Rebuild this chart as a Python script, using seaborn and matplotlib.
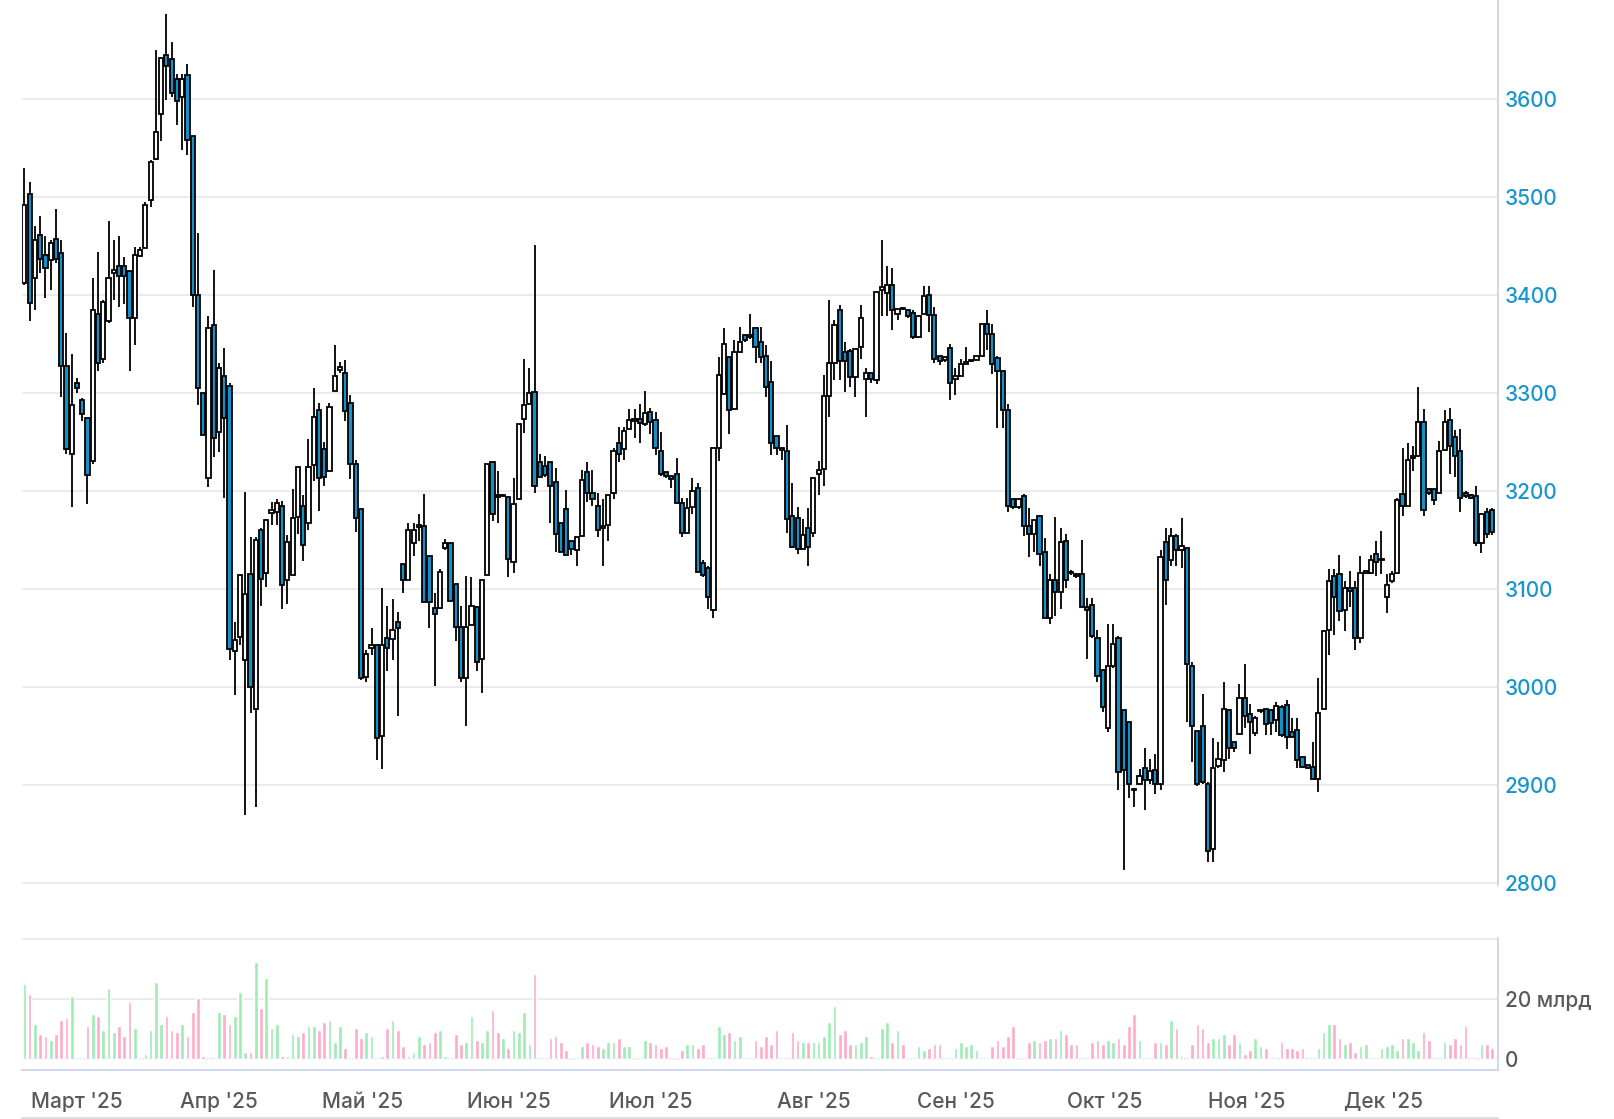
import numpy as np
import pandas as pd
import seaborn as sns
import matplotlib
matplotlib.use("Agg")
import matplotlib.pyplot as plt
from matplotlib.lines import Line2D

# OHLC per session
opens = [
    3412, 3503, 3417, 3461, 3441, 3436, 3457, 3443, 3327, 3238, 3310, 3293, 3274, 3230, 3380, 3335, 3373, 3422, 3429, 3429,
    3424, 3376, 3440, 3448, 3497, 3539, 3584, 3645, 3641, 3620, 3602, 3624, 3562, 3400, 3300, 3213, 3369, 3260, 3317, 3307,
    3037, 3051, 3027, 3115, 2978, 3160, 3116, 3177, 3178, 3185, 3109, 3114, 3173, 3185, 3167, 3226, 3282, 3243,
    3220, 3302, 3323, 3320, 3290, 3227, 3182, 3010, 3040, 3043, 2950, 3050, 3049, 3066, 3125, 3109, 3147, 3163, 3164, 3134,
    3081, 3081, 3142, 3147, 3105, 3061, 3009, 3063, 3082, 3029, 3114, 3229, 3196, 3195, 3194, 3127, 3192, 3273, 3289, 3301,
    3229, 3225, 3229, 3209, 3167, 3182, 3149, 3140, 3154, 3219, 3198, 3185, 3162, 3165, 3198, 3249, 3243, 3263,
    3271, 3273, 3268, 3280, 3272, 3241, 3219, 3215, 3217, 3188, 3157, 3184, 3203, 3126, 3121, 3078, 3244, 3299, 3337, 3284,
    3342, 3359, 3357, 3366, 3352, 3338, 3311, 3256, 3242, 3241, 3174, 3172, 3141, 3162, 3157, 3217, 3222, 3297, 3330, 3385,
    3342, 3343, 3316, 3347, 3314, 3320, 3313, 3405, 3402, 3410, 3380, 3387, 3385, 3381, 3357, 3380, 3400, 3379, 3338, 3334,
    3346, 3314, 3317, 3329, 3332, 3334, 3338, 3370, 3360, 3336, 3322, 3282, 3192, 3184, 3195, 3164, 3156, 3174, 3138, 3070,
    3109, 3097, 3149, 3117, 3115, 3115, 3082, 3084, 3050, 3017, 2958, 3021, 3050, 2976, 2964, 2896, 2901, 2917, 2905, 2915,
    2901, 3148, 3129, 3154, 3140, 3142, 3021, 2955, 2960, 2901, 2835, 2919, 2925, 2976, 2944, 2952, 2989, 2972, 2953,
    2975, 2978, 2976, 2966, 2980, 2982, 2954, 2956, 2929, 2920, 2918, 2906, 2978, 3058, 3113, 3115, 3079, 3101, 3101, 3050,
    3116, 3116, 3136, 3130, 3092, 3108, 3116, 3197, 3185, 3234, 3236, 3270, 3202, 3202, 3198, 3242, 3272, 3255, 3241, 3198,
    3196, 3195, 3147, 3178, 3181,
]
highs = [
    3529, 3515, 3470, 3480, 3460, 3456, 3488, 3456, 3361, 3340, 3315, 3295, 3274, 3417, 3444, 3395, 3475, 3456, 3460, 3439,
    3424, 3449, 3449, 3495, 3538, 3650, 3642, 3686, 3658, 3625, 3625, 3635, 3562, 3463, 3300, 3378, 3425, 3330, 3346, 3310,
    3066, 3114, 3199, 3153, 3153, 3162, 3170, 3189, 3192, 3190, 3155, 3202, 3224, 3196, 3253, 3305, 3290, 3250,
    3290, 3349, 3331, 3333, 3298, 3231, 3182, 3038, 3060, 3043, 3101, 3083, 3090, 3076, 3125, 3167, 3167, 3176, 3197, 3134,
    3096, 3120, 3151, 3147, 3105, 3083, 3113, 3112, 3082, 3109, 3227, 3229, 3220, 3196, 3194, 3213, 3268, 3335, 3325, 3451,
    3238, 3236, 3229, 3223, 3167, 3201, 3149, 3153, 3221, 3229, 3221, 3198, 3192, 3196, 3244, 3265, 3265, 3284,
    3284, 3289, 3302, 3285, 3280, 3260, 3219, 3215, 3234, 3193, 3193, 3213, 3208, 3129, 3123, 3244, 3337, 3366, 3337, 3354,
    3367, 3359, 3380, 3367, 3367, 3349, 3332, 3256, 3244, 3267, 3208, 3184, 3171, 3183, 3213, 3230, 3318, 3395, 3374, 3390,
    3352, 3345, 3345, 3390, 3325, 3320, 3403, 3456, 3429, 3427, 3386, 3387, 3386, 3385, 3378, 3409, 3409, 3388, 3338, 3337,
    3350, 3325, 3335, 3347, 3334, 3338, 3370, 3384, 3370, 3338, 3322, 3289, 3192, 3193, 3197, 3183, 3170, 3175, 3152, 3115,
    3173, 3162, 3156, 3119, 3116, 3150, 3091, 3091, 3058, 3017, 3064, 3064, 3052, 2976, 2964, 2897, 2916, 2938, 2927, 2932,
    3140, 3162, 3162, 3156, 3172, 3142, 3025, 2955, 2993, 2903, 2948, 2944, 3005, 2978, 2944, 3003, 3023, 2983, 2970,
    2977, 2978, 2978, 2985, 2982, 2987, 2968, 2968, 2929, 2920, 2944, 3009, 3057, 3120, 3120, 3135, 3108, 3118, 3108, 3134,
    3118, 3135, 3149, 3159, 3115, 3118, 3193, 3244, 3249, 3246, 3306, 3284, 3203, 3202, 3251, 3282, 3285, 3262, 3263, 3200,
    3197, 3205, 3176, 3183, 3183,
]
lows = [
    3410, 3373, 3385, 3422, 3397, 3405, 3432, 3296, 3238, 3184, 3300, 3271, 3187, 3227, 3322, 3330, 3371, 3395, 3388, 3391,
    3322, 3349, 3439, 3448, 3490, 3538, 3557, 3599, 3602, 3573, 3548, 3543, 3388, 3288, 3257, 3204, 3235, 3240, 3193, 3027,
    2992, 3043, 2869, 2973, 2878, 3083, 3102, 3165, 3165, 3080, 3085, 3114, 3156, 3128, 3160, 3210, 3179, 3205,
    3220, 3302, 3320, 3271, 3212, 3158, 3007, 3005, 3033, 2925, 2916, 3016, 3027, 2970, 3096, 3109, 3134, 3149, 3087, 3060,
    3001, 3080, 3140, 3088, 3047, 3005, 2960, 3063, 3016, 2994, 3114, 3169, 3167, 3195, 3112, 3116, 3192, 3259, 3289, 3198,
    3214, 3214, 3167, 3138, 3138, 3135, 3135, 3123, 3154, 3189, 3185, 3153, 3123, 3149, 3192, 3229, 3232, 3263,
    3254, 3249, 3266, 3258, 3237, 3215, 3213, 3203, 3188, 3153, 3157, 3176, 3117, 3112, 3080, 3070, 3230, 3299, 3258, 3284,
    3342, 3352, 3355, 3330, 3330, 3296, 3237, 3237, 3232, 3157, 3143, 3136, 3141, 3123, 3153, 3196, 3205, 3275, 3313, 3313,
    3301, 3306, 3296, 3335, 3275, 3310, 3309, 3378, 3378, 3364, 3374, 3386, 3376, 3355, 3357, 3380, 3362, 3330, 3328, 3331,
    3293, 3298, 3317, 3329, 3331, 3334, 3338, 3344, 3319, 3264, 3264, 3178, 3182, 3182, 3154, 3133, 3138, 3123, 3070, 3064,
    3072, 3080, 3101, 3114, 3111, 3082, 3029, 3050, 3005, 2974, 2954, 3019, 2895, 2813, 2887, 2878, 2901, 2874, 2901, 2891,
    2895, 3084, 3123, 3123, 3121, 2964, 2923, 2899, 2901, 2821, 2821, 2917, 2913, 2927, 2934, 2952, 2958, 2932, 2950,
    2973, 2951, 2951, 2954, 2949, 2937, 2949, 2917, 2917, 2917, 2906, 2893, 2978, 3033, 3053, 3067, 3057, 3082, 3038, 3045,
    3116, 3115, 3113, 3115, 3075, 3106, 3116, 3174, 3185, 3220, 3236, 3174, 3196, 3186, 3198, 3242, 3217, 3214, 3178, 3193,
    3192, 3144, 3137, 3152, 3155,
]
closes = [
    3492, 3392, 3456, 3437, 3427, 3453, 3437, 3327, 3243, 3288, 3305, 3278, 3216, 3384, 3330, 3393, 3417, 3425, 3419, 3419,
    3376, 3441, 3446, 3492, 3535, 3566, 3642, 3633, 3606, 3598, 3620, 3558, 3400, 3305, 3257, 3366, 3254, 3325, 3274, 3039,
    3048, 3114, 3095, 3000, 3150, 3110, 3170, 3181, 3188, 3104, 3148, 3172, 3224, 3145, 3224, 3275, 3213, 3214,
    3286, 3317, 3326, 3281, 3227, 3172, 3009, 3034, 3043, 2948, 3043, 3040, 3058, 3060, 3109, 3160, 3160, 3165, 3087, 3087,
    3074, 3117, 3147, 3088, 3061, 3009, 3061, 3083, 3025, 3109, 3227, 3176, 3194, 3196, 3131, 3187, 3268, 3288, 3300, 3205,
    3214, 3216, 3205, 3156, 3138, 3135, 3141, 3153, 3211, 3198, 3192, 3160, 3164, 3196, 3241, 3238, 3261, 3272,
    3273, 3269, 3279, 3270, 3244, 3217, 3215, 3212, 3188, 3157, 3183, 3200, 3117, 3114, 3092, 3244, 3318, 3350, 3282, 3342,
    3352, 3354, 3359, 3347, 3337, 3306, 3249, 3244, 3244, 3171, 3143, 3141, 3155, 3143, 3213, 3221, 3297, 3330, 3369, 3332,
    3332, 3316, 3345, 3376, 3320, 3314, 3403, 3408, 3410, 3385, 3386, 3386, 3378, 3357, 3378, 3399, 3379, 3335, 3332, 3337,
    3310, 3317, 3329, 3331, 3333, 3338, 3370, 3360, 3329, 3322, 3282, 3185, 3184, 3192, 3164, 3156, 3170, 3136, 3070, 3109,
    3097, 3148, 3109, 3116, 3113, 3082, 3079, 3052, 3011, 2980, 3021, 3044, 2913, 2915, 2901, 2895, 2909, 2905, 2914, 2901,
    3133, 3109, 3154, 3140, 3144, 3023, 2960, 2901, 2903, 2833, 2917, 2927, 2978, 2938, 2938, 2989, 2970, 2964, 2968,
    2975, 2962, 2963, 2981, 2951, 2949, 2949, 2925, 2918, 2917, 2906, 2973, 3057, 3108, 3092, 3077, 3101, 3098, 3050, 3116,
    3118, 3130, 3127, 3131, 3104, 3115, 3191, 3185, 3231, 3236, 3270, 3181, 3198, 3191, 3241, 3270, 3246, 3236, 3193, 3195,
    3193, 3147, 3176, 3156, 3158,
]
# traded value, млрд
volumes = [
    24.9, 21.6, 11.6, 8.2, 7.6, 6.2, 8.2, 12.9, 13.6, 20.9, 0, 0, 10.9, 14.9, 14.2, 9.6, 23.6, 8.9, 10.9, 7.6,
    18.9, 10.2, 0, 1.6, 9.6, 25.6, 11.6, 14.2, 9.6, 8.9, 11.6, 7.6, 15.6, 20.2, 0.9, 0, 0, 15.6, 14.9, 11.6,
    14.2, 22.2, 2.2, 2.2, 32.2, 16.9, 26.9, 10.2, 11.6, 0.9, 0.9, 8.2, 7.6, 8.9, 10.9, 10.9, 9.6, 12.2, 12.9, 5.6,
    10.9, 3.6, 0, 10.2, 6.9, 8.9, 7.6, 0, 0.9, 10.2, 12.9, 9.6, 4.2, 0.9, 2.2, 7.6, 4.9, 5.6, 8.9, 9.6,
    0.9, 0, 8.2, 4.9, 5.6, 14.2, 6.2, 5.6, 9.6, 16.2, 8.9, 6.9, 3.6, 9.6, 8.9, 15.6, 4.9, 28.2, 0, 0,
    6.9, 7.6, 5.6, 2.9, 0, 0, 4.2, 5.6, 4.9, 4.2, 3.6, 5.6, 5.6, 6.9, 4.2, 4.2, 0, 0, 6.2, 5.6,
    4.9, 3.6, 4.2, 0, 0, 2.9, 4.9, 4.9, 3.6, 4.9, 0, 0, 10.9, 8.2, 8.9, 6.2, 7.6, 0, 0, 6.2,
    4.2, 7.6, 4.9, 9.6, 0, 0, 8.9, 6.2, 5.6, 5.6, 5.6, 5.6, 7.6, 12.2, 17.6, 8.2, 9.6, 4.9, 4.9, 5.6,
    7.6, 0.9, 0, 10.2, 12.2, 5.6, 9.6, 4.9, 0, 0, 4.2, 2.9, 3.6, 4.9, 4.9, 0, 0, 3.6, 5.6, 4.2,
    4.9, 2.9, 0, 0, 4.2, 6.2, 4.2, 7.6, 10.9, 0, 0, 5.6, 6.2, 5.6, 6.2, 6.9, 6.9, 9.6, 8.2, 4.9,
    4.9, 0, 0, 5.6, 6.2, 4.9, 6.2, 5.6, 6.9, 4.9, 10.9, 14.9, 6.2, 0, 0, 5.6, 5.6, 4.9, 12.9, 10.2,
    0.9, 0, 4.9, 11.6, 10.2, 5.6, 6.9, 6.9, 8.2, 4.9, 8.2, 5.6, 1.6, 2.9, 6.9, 4.2, 3.6, 0, 0, 5.6,
    3.6, 3.6, 2.9, 3.6, 0, 0, 3.6, 8.9, 11.6, 11.6, 6.9, 4.9, 5.6, 2.2, 4.2, 4.9, 0, 0, 3.6, 4.2,
    4.9, 2.9, 6.9, 6.9, 5.6, 2.9, 8.9, 6.2, 0, 0, 5.6, 4.9, 6.9, 4.9, 10.9, 0, 0, 4.9, 4.9, 3.6,
]
price_ticks = [2800, 2900, 3000, 3100, 3200, 3300, 3400, 3500, 3600]
month_labels = ["Март '25", "Апр '25", "Май '25", "Июн '25", "Июл '25",
                "Авг '25", "Сен '25", "Окт '25", "Ноя '25", "Дек '25"]
# session index where each month begins
month_pos = [10.0, 36.9, 64.3, 92.2, 119.1, 150.1, 177.1, 205.3, 232.3, 258.3]

BLUE = "#1590c8"
BLUE_TXT = "#1795d0"
GREEN = "#a0eab6"
PINK = "#ffabc8"
AXIS = "#ccd6eb"
GRID = "#e6e6e6"
GREY_TXT = "#595959"

sns.set_theme(style="white")
plt.rcParams["font.family"] = ["Inter", "DejaVu Sans"]
plt.rcParams["font.weight"] = "medium"

df = pd.DataFrame({"open": opens, "high": highs, "low": lows,
                   "close": closes, "vol": volumes})
df["i"] = np.arange(len(df))
df["dir"] = np.where(df["close"] >= df["open"], "up", "down")

W, H = 1614, 1119
fig = plt.figure(figsize=(W / 100, H / 100), dpi=100)
ax = fig.add_axes([22 / W, 1 - 885 / H, 1476 / W, 885 / H])
axv = fig.add_axes([22 / W, 1 - 1070 / H, 1476 / W, 132 / H])

# candles
up = df["close"] >= df["open"]
body_lo = np.minimum(df["open"], df["close"])
body_h = np.maximum((df["close"] - df["open"]).abs(), 1.0)
ax.vlines(df["i"], df["low"], df["high"], color="black", lw=1.3, zorder=2)
ax.bar(df["i"], body_h, bottom=body_lo, width=0.8,
       color=np.where(up, "white", BLUE), edgecolor="black", linewidth=1.3, zorder=3)

ax.set_xlim(-0.45, 280.15)
ax.set_ylim(2798, 3700.7)
ax.set_yticks(price_ticks)
ax.yaxis.tick_right()
ax.yaxis.grid(True, color=GRID, lw=1.1)
ax.set_axisbelow(True)
ax.tick_params(axis="y", length=0, pad=5, labelsize=15, labelcolor=BLUE_TXT)
ax.tick_params(axis="x", bottom=False, labelbottom=False)
for s in ["left", "top", "bottom"]:
    ax.spines[s].set_visible(False)
ax.spines["right"].set_color(AXIS)
ax.spines["right"].set_linewidth(1.3)

# volume
sns.barplot(data=df, x="i", y="vol", hue="dir", palette={"up": GREEN, "down": PINK},
            native_scale=True, dodge=False, width=0.7, errorbar=None,
            saturation=1, legend=False, ax=axv)
axv.set_xlim(-0.45, 280.15)
axv.set_ylim(-3.7, 40.3)
axv.set_yticks([0, 20, 40], ["0", "20 млрд", ""])
axv.yaxis.tick_right()
axv.yaxis.grid(True, color=GRID, lw=1.1)
axv.set_axisbelow(True)
axv.tick_params(axis="y", length=0, pad=5, labelsize=15, labelcolor=GREY_TXT)
axv.set_xticks(month_pos, month_labels)
axv.tick_params(axis="x", length=13, width=1.1, color=AXIS, pad=3,
                labelsize=15, labelcolor=GREY_TXT)
axv.set_xlabel("")
axv.set_ylabel("")
for s in ["left", "top"]:
    axv.spines[s].set_visible(False)
for s in ["right", "bottom"]:
    axv.spines[s].set_color(AXIS)
    axv.spines[s].set_linewidth(1.3)

fig.add_artist(Line2D([22 / W, 1498 / W], [1 - 1118 / H] * 2,
                      color="#d9d9d9", lw=1.3, transform=fig.transFigure))

fig.savefig("out.png", dpi=100)
